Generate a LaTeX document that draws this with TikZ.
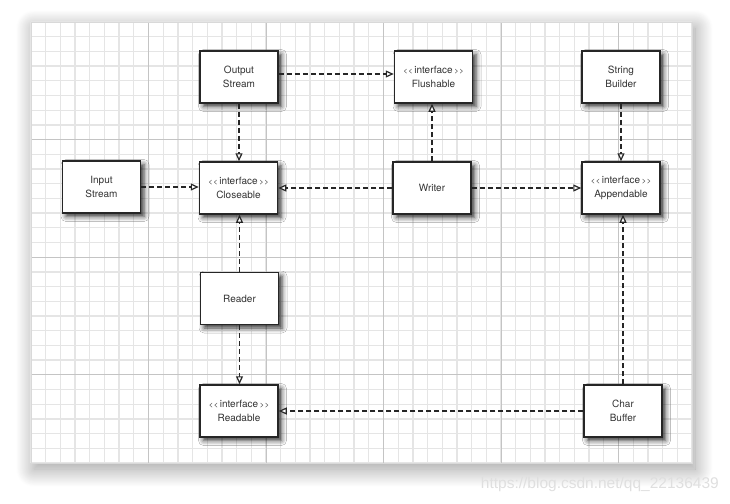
\documentclass[tikz,border=0pt]{standalone}
\usepackage{fontspec}
\setmainfont{TeX Gyre Heros}
\newfontfamily\wmfont{Liberation Sans}
\usetikzlibrary{arrows.meta,shadows.blur}
\definecolor{minorgrid}{gray}{0.9}
\definecolor{majorgrid}{gray}{0.77}
\definecolor{boxline}{gray}{0.15}
\definecolor{txt}{gray}{0.2}
\tikzset{
  umlbox/.style={draw=boxline, line width=1.5pt, fill=white,
    minimum width=78pt, minimum height=52pt, align=center,
    font=\fontsize{10}{14.5}\selectfont, text=txt, inner sep=0pt,
    blur shadow={shadow xshift=3.5pt, shadow yshift=-3.5pt,
      shadow blur radius=5pt, shadow opacity=80}},
  dep/.style={draw=boxline, line width=1.6pt, dash pattern=on 5pt off 3pt,
    -{Triangle[open, length=8pt, width=7pt, line width=1.2pt, fill=white]}},
  minorline/.style={draw=minorgrid, line width=1.3pt},
  majorline/.style={draw=majorgrid, line width=1pt},
}
\newcommand{\ifacelabel}[1]{{\fontsize{7.5}{8}\selectfont<\kern0.6pt<}\,interface\,{\fontsize{7.5}{8}\selectfont>\kern0.6pt>}\\#1}
\begin{document}
\begin{tikzpicture}[x=1pt,y=-1pt]
\useasboundingbox (0,0) rectangle (730,503);
% panel with shadow
\fill[white, blur shadow={shadow xshift=3pt, shadow yshift=-6pt,
  shadow blur radius=18pt, shadow blur steps=30, shadow opacity=40}] (31,22) rectangle (692,463);
\foreach \i in {0,...,45} \draw[minorline] ({31+\i*14.6875},22) -- ({31+\i*14.6875},463);
\foreach \j in {0,...,30} \draw[minorline] (31,{22+\j*14.7}) -- (692,{22+\j*14.7});
\foreach \i in {8,16,24,32,40} \draw[majorline] ({31+\i*14.6875},22) -- ({31+\i*14.6875},463);
\foreach \j in {8,16,24} \draw[majorline] (31,{22+\j*14.7}) -- (692,{22+\j*14.7});
\draw[draw=gray!30, line width=0.8pt] (31,22) rectangle (692,463);
% boxes
\node[umlbox] (ostream)  at (239,77)    {Output\\Stream};
\node[umlbox] (flush)    at (433.5,77)  {\ifacelabel{Flushable}};
\node[umlbox] (sbuild)   at (621,77)    {String\\Builder};
\node[umlbox] (istream)  at (101.5,187) {Input\\Stream};
\node[umlbox] (close)    at (238.5,188) {\ifacelabel{Closeable}};
\node[umlbox] (writer)   at (432,188)   {Writer};
\node[umlbox] (append)   at (621,188)   {\ifacelabel{Appendable}};
\node[umlbox] (reader)   at (239.5,298.5) {Reader};
\node[umlbox] (readable) at (239,411)   {\ifacelabel{Readable}};
\node[umlbox] (cbuf)     at (623,411)   {Char\\Buffer};
% connectors
\draw[dep] ([yshift=3pt]ostream.east) -- ([yshift=3pt]flush.west);
\draw[dep] (ostream.south) -- (ostream.south |- close.north);
\draw[dep] (writer.north) -- (writer.north |- flush.south);
\draw[dep] (writer.west) -- (close.east |- writer.west);
\draw[dep] (writer.east) -- (append.west |- writer.east);
\draw[dep] (istream.east) -- (close.west |- istream.east);
\draw[dep] (sbuild.south) -- (sbuild.south |- append.north);
\draw[dep] (reader.north) -- (reader.north |- close.south);
\draw[dep] (reader.south) -- (reader.south |- readable.north);
\draw[dep] (cbuf.west) -- (readable.east |- cbuf.west);
\draw[dep] (cbuf.north) -- (cbuf.north |- append.south);
% watermark
\node[anchor=east, inner sep=0pt, text=gray!25, font=\wmfont\fontsize{15.5}{16}\selectfont] (wm) at (719,484) {https://blog.csdn.net/qq\_22136439};
\end{tikzpicture}
\end{document}
